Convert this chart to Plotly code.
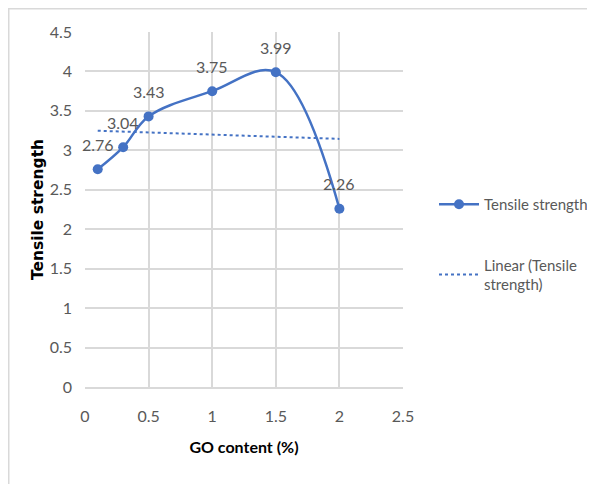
import numpy as np
import plotly.graph_objects as go

go_content = [0.1, 0.3, 0.5, 1.0, 1.5, 2.0]
tensile = [2.76, 3.04, 3.43, 3.75, 3.99, 2.26]
x_ticks = [0, 0.5, 1, 1.5, 2, 2.5]
y_ticks = [0, 0.5, 1, 1.5, 2, 2.5, 3, 3.5, 4, 4.5]

blue = "#4472C4"
grey_text = "#595959"
grid = "#d9d9d9"
font_fam = "Lato, Liberation Sans, sans-serif"

slope, intercept = np.polyfit(go_content, tensile, 1)
trend_x = [go_content[0], go_content[-1]]
trend_y = [slope * v + intercept for v in trend_x]

fig = go.Figure()
fig.add_trace(go.Scatter(
    x=go_content, y=tensile, mode="lines+markers",
    name="Tensile strength", legendgroup="a",
    line=dict(color=blue, width=2.5, shape="spline", smoothing=1.05),
    marker=dict(color=blue, size=10),
))
fig.add_trace(go.Scatter(
    x=trend_x, y=trend_y, mode="lines", legendgroup="b",
    name="Linear (Tensile<br>strength)",
    line=dict(color=blue, width=2, dash="dot"),
))

for xv, yv in zip(go_content, tensile):
    fig.add_annotation(x=xv, y=yv, text=f"{yv:.2f}", showarrow=False,
                       yshift=25, xanchor="center", yanchor="middle",
                       font=dict(color=grey_text, size=16, family=font_fam))

# page is offset by 8px body margin; figure size reduced accordingly
OFF = 8
FW, FH = 595 - OFF, 484 - OFF
L, R, T, B = 85 - OFF, 403 - OFF, 32 - OFF, 387 - OFF
W, H = R - L, B - T
px = lambda v: (v - L) / W
py = lambda v: (B - v) / H
fig.add_shape(type="line", xref="paper", yref="paper",
              x0=px(0), x1=px(FW + 5), y0=py(0.5), y1=py(0.5),
              line=dict(color=grid, width=2))
fig.add_shape(type="line", xref="paper", yref="paper",
              x0=px(0.5), x1=px(0.5), y0=py(0), y1=py(FH + 5),
              line=dict(color=grid, width=2))

fig.update_layout(
    width=FW, height=FH,
    margin=dict(l=L, r=FW - R, t=T, b=FH - B, autoexpand=False),
    plot_bgcolor="white", paper_bgcolor="white",
    font=dict(family=font_fam, color=grey_text, size=16),
    showlegend=True,
    legend=dict(x=px(434 - OFF), y=py(188 - OFF), xanchor="left", yanchor="top",
                font=dict(size=15, color=grey_text, family=font_fam),
                tracegroupgap=38, itemwidth=40),
    xaxis=dict(range=[0, 2.5], tickvals=x_ticks, ticktext=[str(t) for t in x_ticks],
               showgrid=True, gridcolor=grid, gridwidth=1.5,
               showline=True, linecolor=grid, linewidth=2, mirror=False,
               zeroline=False, ticks="", ticklabelstandoff=14,
               title=dict(text="<b>GO content (%)</b>", standoff=18,
                          font=dict(size=16, color="black", family=font_fam))),
    yaxis=dict(range=[0, 4.5], tickvals=y_ticks, ticktext=[str(t) for t in y_ticks],
               showgrid=True, gridcolor=grid, gridwidth=1.5,
               showline=False, zeroline=False, ticks="", ticklabelstandoff=12,
               title=dict(text="<b>Tensile strength</b>", standoff=2,
                          font=dict(size=15.5, color="black", family="DejaVu Sans, sans-serif"))),
)
fig.write_html("out.html")
